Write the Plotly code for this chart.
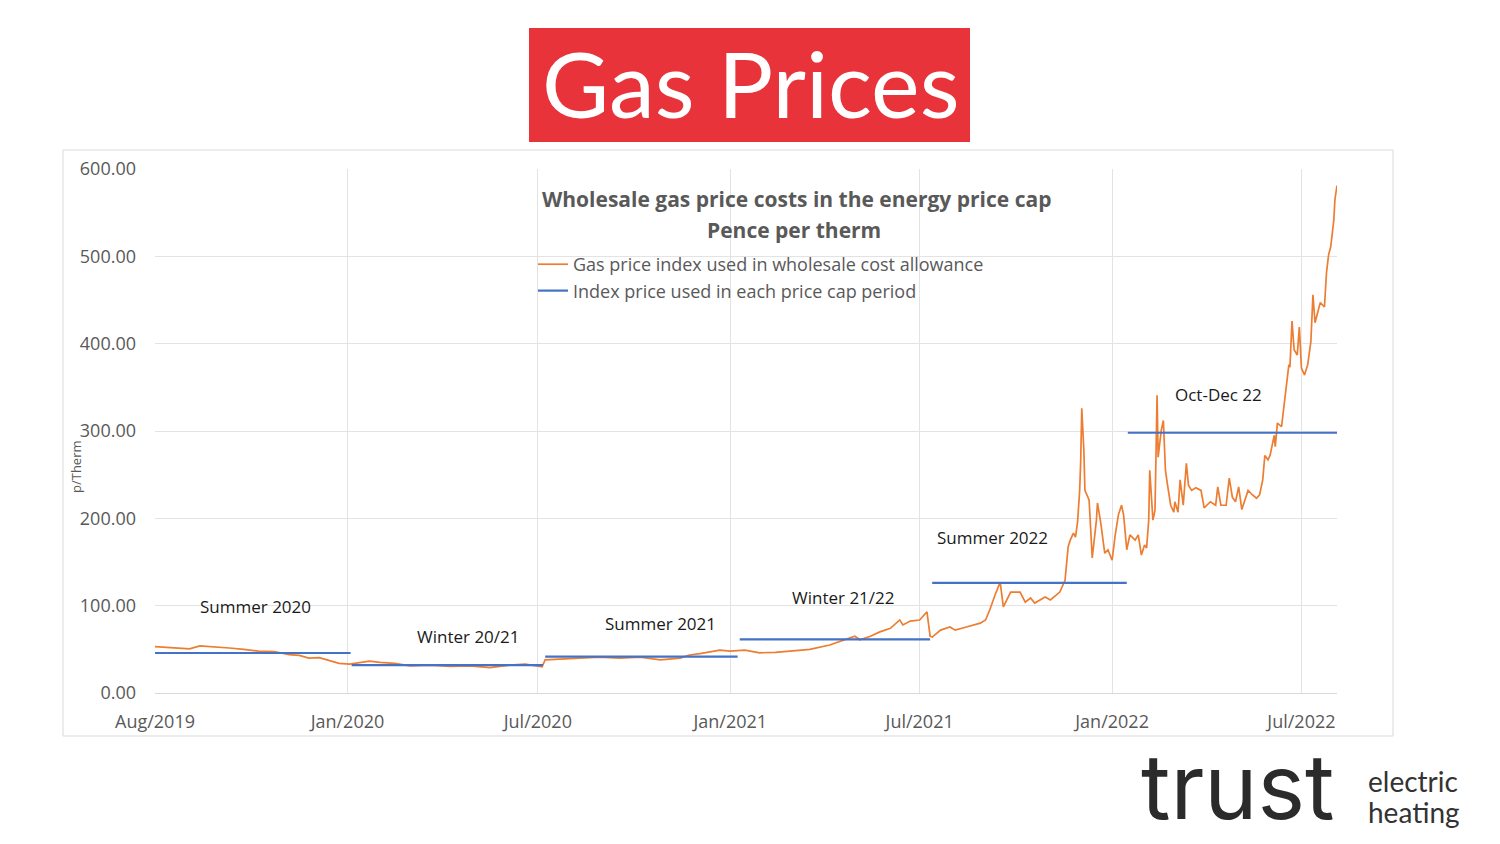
import plotly.graph_objects as go

# ---------------- data ----------------
gas_dates = [
    "2019-07-01","2019-07-20","2019-08-03","2019-08-13","2019-08-27","2019-09-10","2019-09-24",
    "2019-10-08","2019-10-23","2019-11-06","2019-11-16","2019-11-25","2019-12-05","2019-12-14",
    "2019-12-24","2020-01-03","2020-01-13","2020-01-22","2020-02-01","2020-02-15","2020-03-01",
    "2020-03-20","2020-04-08","2020-04-27","2020-05-16","2020-06-04","2020-06-19","2020-06-28",
    "2020-07-05","2020-07-08","2020-07-22","2020-08-10","2020-08-29","2020-09-17","2020-10-07",
    "2020-10-26","2020-11-14","2020-11-23","2020-12-03","2020-12-12","2020-12-22","2021-01-01",
    "2021-01-15","2021-01-29","2021-02-13","2021-02-27","2021-03-18","2021-04-06","2021-04-21",
    "2021-04-30","2021-05-05","2021-05-15","2021-05-24","2021-06-03","2021-06-12","2021-06-15",
    "2021-06-22","2021-07-01","2021-07-08","2021-07-11","2021-07-13","2021-07-21","2021-07-30",
    "2021-08-04","2021-08-13","2021-08-28","2021-09-02","2021-09-06","2021-09-11","2021-09-16",
    "2021-09-19","2021-09-26","2021-10-05","2021-10-10","2021-10-15","2021-10-19","2021-10-29",
    "2021-11-03","2021-11-12","2021-11-17","2021-11-20","2021-11-22","2021-11-25","2021-11-27",
    "2021-11-29","2021-12-01","2021-12-02","2021-12-03","2021-12-05","2021-12-06","2021-12-10",
    "2021-12-13","2021-12-17","2021-12-18","2021-12-21","2021-12-25","2021-12-28","2022-01-01",
    "2022-01-04","2022-01-07","2022-01-10","2022-01-12","2022-01-15","2022-01-18","2022-01-23",
    "2022-01-26","2022-01-29","2022-02-01","2022-02-03","2022-02-05","2022-02-06","2022-02-09",
    "2022-02-11","2022-02-13","2022-02-14","2022-02-17","2022-02-19","2022-02-21","2022-02-23",
    "2022-02-26","2022-03-01","2022-03-02","2022-03-05","2022-03-07","2022-03-10","2022-03-13",
    "2022-03-15","2022-03-18","2022-03-22","2022-03-27","2022-03-30","2022-04-05","2022-04-10",
    "2022-04-12","2022-04-15","2022-04-20","2022-04-23","2022-04-26","2022-04-29","2022-05-02",
    "2022-05-05","2022-05-11","2022-05-15","2022-05-19","2022-05-22","2022-05-25","2022-05-27",
    "2022-05-30","2022-06-01","2022-06-05","2022-06-06","2022-06-08","2022-06-12","2022-06-16",
    "2022-06-19","2022-06-20","2022-06-22","2022-06-24","2022-06-27","2022-06-29","2022-07-01",
    "2022-07-04","2022-07-07","2022-07-10","2022-07-12","2022-07-14","2022-07-17","2022-07-19",
    "2022-07-23","2022-07-25","2022-07-27","2022-07-29","2022-08-01","2022-08-02","2022-08-04",
]
gas_values = [
    53, 52, 50.5, 54, 53, 51.5, 50,
    48, 47.5, 44, 43, 40, 40.5, 37,
    34, 33, 35, 36.5, 35, 34, 31,
    32, 30.5, 31, 29, 32, 33, 31,
    30, 38, 38.5, 40, 41, 40, 41,
    38, 40, 43.5, 45, 47, 49, 48,
    49, 46, 46.5, 48, 50, 55, 60.7,
    65, 61, 65, 70, 74, 83.6, 78,
    82.4, 83.6, 93, 65, 64, 72, 75.6,
    72, 75, 80, 83.6, 95, 112, 127,
    98.5, 115.6, 115.6, 104, 108.8, 103, 110,
    106.5, 115.6, 129, 167.5, 175, 183, 178.6,
    196, 232, 267, 326, 278, 232, 221,
    154.6, 198, 217.6, 196, 160, 164, 152,
    181, 204, 215, 204, 164, 181, 175,
    181, 158, 169.5, 166, 198, 255, 198,
    209, 341, 270, 301, 312, 255, 238,
    215, 207, 219, 207, 244, 215, 263,
    238, 232, 235, 232, 212, 219, 215,
    236, 215, 215, 246, 224, 219, 236,
    210, 232, 227, 223, 227, 244, 272,
    267, 272, 295, 282, 309, 305, 350,
    376, 373, 426, 393, 387, 419, 372,
    364, 376, 402, 456, 424, 438, 447,
    442, 482, 502, 511, 542, 565, 581,
]

period_starts = ["2019-07-01", "2020-01-05", "2020-07-08", "2021-01-10", "2021-07-13", "2022-01-16"]
period_ends = ["2020-01-04", "2020-07-06", "2021-01-08", "2021-07-11", "2022-01-15", "2022-08-04"]
period_values = [45.8, 32.0, 41.6, 61.5, 126.0, 298.0]

period_labels = ["Summer 2020", "Winter 20/21", "Summer 2021", "Winter 21/22", "Summer 2022", "Oct-Dec 22"]
label_dates = ["2019-10-05", "2020-04-26", "2020-10-26", "2021-04-19", "2021-09-09", "2022-04-13"]
label_values = [98.5, 65, 80, 109, 177.5, 342]

tick_dates = ["2019-07-01", "2020-01-01", "2020-07-01", "2021-01-01", "2021-07-01", "2022-01-01", "2022-07-01"]
tick_labels = ["Aug/2019", "Jan/2020", "Jul/2020", "Jan/2021", "Jul/2021", "Jan/2022", "Jul/2022"]
y_ticks = [0, 100, 200, 300, 400, 500, 600]

# --------------- figure ----------------
ORANGE = "#ED7D31"
BLUE = "#4472C4"
GRAY = "#595959"
FONT = "Open Sans"

OFF = 8  # page body margin in the browser
FW, FH = 1500 - OFF, 844 - OFF
# target plot area in page pixels
L, R, T, B = 155, 1337, 169, 693
W, H = R - L, B - T
def px(x):
    return (x - L) / W
def py(y):
    return (B - y) / H

blue_x, blue_y = [], []
for s, e, v in zip(period_starts, period_ends, period_values):
    blue_x += [s, e, None]
    blue_y += [v, v, None]

fig = go.Figure()
fig.add_trace(go.Scatter(
    x=gas_dates, y=gas_values, mode="lines",
    name="Gas price index used in wholesale cost allowance",
    line=dict(color=ORANGE, width=1.7),
))
fig.add_trace(go.Scatter(
    x=blue_x, y=blue_y, mode="lines",
    name="Index price used in each price cap period",
    line=dict(color=BLUE, width=2.2),
    connectgaps=False,
))

def ann(x, y, text, size, color, family=FONT, xanchor="center", **kw):
    return dict(x=px(x), y=py(y), xref="paper", yref="paper", text=text, showarrow=False,
                xanchor=xanchor, yanchor="middle",
                font=dict(family=family, size=size, color=color), **kw)

annotations = []
for txt, d, v in zip(period_labels, label_dates, label_values):
    annotations.append(dict(x=d, y=v, xref="x", yref="y", text=txt, showarrow=False,
                            xanchor="center", yanchor="middle",
                            font=dict(family=FONT, size=17, color="#1a1a1a")))

annotations += [
    ann(796, 199, "<b>Wholesale gas price costs in the energy price cap</b>", 21, GRAY),
    ann(794, 230, "<b>Pence per therm</b>", 21, GRAY),
    ann(76, 467, "p/Therm", 13, GRAY, textangle=-90),
    ann(751, 83, "Gas Prices", 92, "white", family="Lato"),
    ann(1238, 786, "trust", 90, "#2b2b2b", family="Inter"),
    ann(1366, 781, "electric", 28, "#333333", family="Lato", xanchor="left"),
    ann(1366, 812, "heating", 28, "#333333", family="Lato", xanchor="left"),
]

shapes = [
    dict(type="rect", xref="paper", yref="paper", x0=px(529), x1=px(970), y0=py(142), y1=py(28),
         fillcolor="#E8333A", line=dict(width=0), layer="below"),
    dict(type="rect", xref="paper", yref="paper", x0=px(63), x1=px(1393), y0=py(736), y1=py(150),
         fillcolor="rgba(0,0,0,0)", line=dict(color="#d9d9d9", width=1), layer="below"),
]

fig.update_layout(
    width=FW, height=FH,
    margin=dict(l=L - OFF, r=FW - (R - OFF), t=T - OFF, b=FH - (B - OFF)),
    paper_bgcolor="white", plot_bgcolor="white",
    font=dict(family=FONT, color=GRAY),
    showlegend=True,
    legend=dict(x=px(533), y=py(246), xanchor="left", yanchor="top",
                bgcolor="rgba(0,0,0,0)", font=dict(family=FONT, size=18, color=GRAY),
                itemwidth=30, tracegroupgap=0),
    annotations=annotations,
    shapes=shapes,
)
fig.update_xaxes(
    type="date", range=["2019-07-01", "2022-08-04"],
    tickvals=tick_dates, ticktext=tick_labels,
    showgrid=True, gridcolor="#e3e3e3", gridwidth=1,
    showline=True, linecolor="#d9d9d9", linewidth=1,
    ticks="", ticklabelstandoff=12,
    tickfont=dict(family=FONT, size=18, color=GRAY),
    zeroline=False,
)
fig.update_yaxes(
    range=[0, 600], tickvals=y_ticks, tickformat=".2f",
    showgrid=True, gridcolor="#e3e3e3", gridwidth=1,
    ticks="", ticklabelstandoff=18,
    tickfont=dict(family=FONT, size=18, color=GRAY),
    zeroline=False, showline=False,
)

fig.write_html("out.html")
